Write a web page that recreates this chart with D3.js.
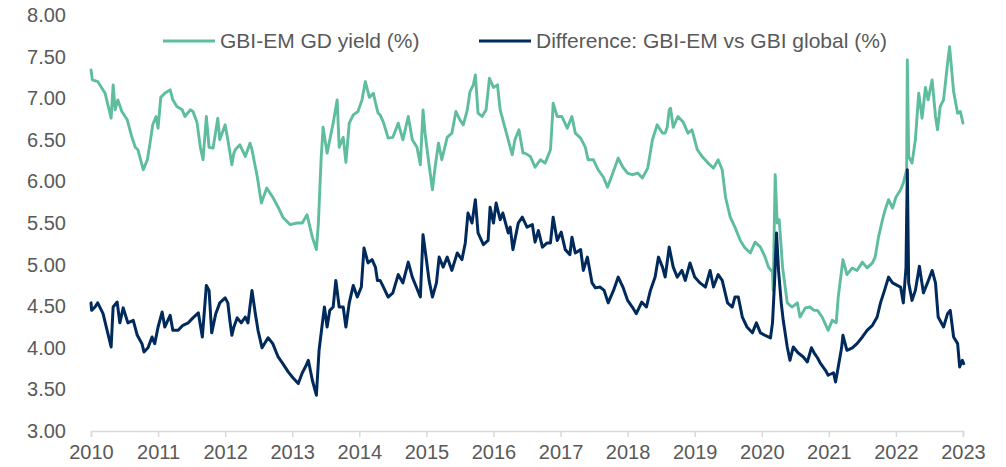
<!DOCTYPE html>
<html>
<head>
<meta charset="utf-8">
<script src="https://cdn.jsdelivr.net/npm/d3@7"></script>
<style>
  body { margin: 0; background: #fff; }
  text { font-family: "Liberation Sans", Arial, sans-serif; fill: #595959; }
  .line { fill: none; stroke-linejoin: round; stroke-linecap: round; }
</style>
</head>
<body>
<div id="viz"></div>
<script>
// GBI-EM GD yield (%), dates as decimal years
var emYears = [2010.00,2010.02,2010.10,2010.21,2010.30,2010.33,2010.36,2010.40,2010.46,2010.54,2010.61,2010.66,2010.70,2010.78,2010.84,2010.88,2010.92,2010.97,
  2011.00,2011.04,2011.10,2011.18,2011.22,2011.28,2011.36,2011.40,2011.48,2011.52,2011.58,2011.63,2011.67,2011.72,2011.76,2011.82,2011.89,2011.92,
  2012.00,2012.04,2012.10,2012.13,2012.15,2012.22,2012.30,2012.37,2012.40,2012.48,2012.54,2012.62,2012.71,2012.79,2012.86,2012.97,
  2013.07,2013.15,2013.22,2013.30,2013.36,2013.39,2013.43,2013.46,2013.52,2013.56,2013.61,2013.67,2013.70,2013.76,2013.80,2013.85,2013.91,2013.98,
  2014.04,2014.09,2014.15,2014.21,2014.24,2014.28,2014.31,2014.36,2014.43,2014.50,2014.58,2014.65,2014.73,2014.79,2014.86,2014.91,2014.95,2014.98,
  2015.03,2015.09,2015.13,2015.18,2015.23,2015.31,2015.38,2015.44,2015.50,2015.55,2015.61,2015.65,2015.70,2015.73,2015.77,2015.83,2015.89,2015.94,
  2016.00,2016.06,2016.10,2016.17,2016.22,2016.28,2016.32,2016.38,2016.44,2016.47,2016.55,2016.62,2016.70,2016.77,2016.85,2016.88,2016.89,2016.95,
  2017.02,2017.10,2017.17,2017.22,2017.30,2017.37,2017.41,2017.49,2017.56,2017.64,2017.70,2017.77,2017.86,2017.93,
  2018.00,2018.07,2018.15,2018.22,2018.30,2018.37,2018.44,2018.52,2018.56,2018.59,2018.62,2018.64,2018.68,2018.75,2018.83,2018.90,2018.96,
  2019.04,2019.11,2019.20,2019.28,2019.35,2019.41,2019.46,2019.53,2019.60,2019.68,2019.75,2019.83,2019.90,2019.98,
  2020.05,2020.10,2020.16,2020.17,2020.20,2020.23,2020.26,2020.31,2020.38,2020.45,2020.53,2020.57,2020.65,2020.72,2020.78,2020.83,2020.90,2020.99,
  2021.05,2021.11,2021.14,2021.21,2021.27,2021.35,2021.42,2021.50,2021.57,2021.65,2021.69,2021.74,2021.80,2021.84,2021.89,2021.95,
  2022.00,2022.07,2022.11,2022.16,2022.17,2022.19,2022.24,2022.29,2022.34,2022.39,2022.44,2022.48,2022.54,2022.59,2022.62,2022.66,2022.71,2022.77,2022.80,2022.86,2022.92,2022.96,2023.00];
var emYield = [7.34,7.22,7.20,7.06,6.76,7.16,6.86,6.98,6.84,6.74,6.53,6.41,6.38,6.14,6.26,6.46,6.68,6.78,
  6.64,7.01,7.06,7.10,6.98,6.90,6.86,6.78,6.86,6.84,6.71,6.41,6.26,6.78,6.41,6.40,6.76,6.50,
  6.68,6.50,6.20,6.34,6.38,6.44,6.30,6.46,6.38,6.05,5.74,5.92,5.81,5.69,5.57,5.48,
  5.50,5.50,5.60,5.33,5.18,5.50,6.26,6.65,6.34,6.50,6.70,6.98,6.41,6.53,6.23,6.70,6.80,6.84,
  6.98,7.20,7.01,7.06,6.95,6.82,6.80,6.71,6.52,6.53,6.70,6.50,6.78,6.50,6.41,6.20,6.86,6.58,
  6.26,5.90,6.17,6.46,6.26,6.53,6.58,6.84,6.74,6.68,6.86,7.08,7.16,7.28,6.82,6.78,6.86,7.24,
  7.13,7.16,6.86,6.65,6.50,6.32,6.50,6.62,6.34,6.34,6.30,6.17,6.26,6.22,6.38,6.78,6.94,6.78,
  6.78,6.64,6.78,6.58,6.52,6.41,6.26,6.26,6.14,6.05,5.93,6.08,6.28,6.17,
  6.10,6.08,6.10,6.04,6.16,6.50,6.68,6.58,6.58,6.65,6.86,6.88,6.65,6.78,6.71,6.58,6.62,
  6.38,6.30,6.22,6.16,6.26,6.14,5.81,5.57,5.45,5.29,5.20,5.14,5.27,5.21,
  5.09,4.97,4.91,4.69,6.08,5.50,5.54,4.97,4.54,4.49,4.54,4.37,4.48,4.49,4.45,4.45,4.37,4.21,
  4.33,4.30,4.61,5.06,4.88,4.96,4.93,5.03,4.96,5.02,5.09,5.33,5.54,5.66,5.78,5.68,
  5.81,5.90,5.98,6.14,7.46,6.30,6.22,6.50,7.06,6.76,7.13,6.98,7.22,6.78,6.62,6.90,6.98,7.42,7.62,7.08,6.82,6.84,6.70];

// Difference: GBI-EM vs GBI global (%)
var diffYears = [2010.00,2010.01,2010.06,2010.10,2010.18,2010.24,2010.30,2010.33,2010.39,2010.43,2010.48,2010.55,2010.63,2010.69,2010.76,2010.79,2010.85,2010.91,2010.95,
  2011.00,2011.06,2011.10,2011.18,2011.22,2011.30,2011.37,2011.45,2011.52,2011.60,2011.66,2011.72,2011.76,2011.80,2011.86,2011.92,
  2012.00,2012.04,2012.07,2012.10,2012.13,2012.18,2012.24,2012.30,2012.34,2012.40,2012.45,2012.49,2012.55,2012.64,2012.71,2012.79,2012.86,2012.94,
  2013.01,2013.09,2013.15,2013.19,2013.24,2013.30,2013.36,2013.40,2013.45,2013.48,2013.52,2013.56,2013.61,2013.65,2013.70,2013.76,2013.80,2013.85,2013.91,2013.97,
  2014.03,2014.07,2014.13,2014.19,2014.24,2014.27,2014.31,2014.36,2014.43,2014.50,2014.58,2014.65,2014.73,2014.79,2014.85,2014.91,2014.95,
  2015.00,2015.04,2015.09,2015.15,2015.19,2015.25,2015.31,2015.38,2015.46,2015.53,2015.58,2015.62,2015.68,2015.73,2015.77,2015.85,2015.92,2015.95,
  2016.00,2016.04,2016.10,2016.14,2016.22,2016.25,2016.29,2016.37,2016.43,2016.50,2016.58,2016.62,2016.67,2016.73,2016.80,2016.85,2016.89,2016.95,
  2017.01,2017.07,2017.14,2017.17,2017.22,2017.30,2017.34,2017.40,2017.47,2017.52,2017.59,2017.65,2017.71,2017.79,2017.86,2017.93,
  2018.00,2018.07,2018.13,2018.21,2018.28,2018.34,2018.41,2018.46,2018.52,2018.56,2018.62,2018.68,2018.74,2018.81,2018.86,2018.93,
  2019.00,2019.08,2019.16,2019.23,2019.28,2019.35,2019.41,2019.49,2019.56,2019.60,2019.65,2019.71,2019.78,2019.86,2019.92,2019.98,
  2020.05,2020.13,2020.16,2020.19,2020.22,2020.25,2020.29,2020.32,2020.38,2020.42,2020.47,2020.54,2020.62,2020.68,2020.74,2020.78,2020.83,2020.87,2020.95,2020.99,
  2021.07,2021.10,2021.14,2021.19,2021.21,2021.27,2021.35,2021.42,2021.50,2021.57,2021.65,2021.72,2021.77,2021.83,2021.89,2021.95,
  2022.02,2022.07,2022.11,2022.15,2022.17,2022.19,2022.24,2022.29,2022.35,2022.41,2022.47,2022.54,2022.59,2022.63,2022.71,2022.77,2022.81,2022.86,2022.92,2022.95,2022.99,2023.01];
var diffValues = [4.54,4.45,4.49,4.54,4.41,4.21,4.01,4.49,4.55,4.30,4.48,4.30,4.33,4.15,4.05,3.95,4.00,4.13,4.05,
  4.25,4.43,4.25,4.39,4.21,4.21,4.27,4.30,4.36,4.42,4.13,4.75,4.69,4.18,4.41,4.54,
  4.60,4.54,4.33,4.15,4.25,4.36,4.30,4.37,4.30,4.69,4.41,4.21,4.00,4.12,4.05,3.89,3.81,3.71,
  3.64,3.57,3.70,3.76,3.85,3.61,3.43,3.97,4.30,4.49,4.25,4.45,4.49,4.81,4.49,4.49,4.25,4.54,4.75,4.61,
  4.73,5.20,5.02,5.06,4.97,4.81,4.81,4.73,4.61,4.66,4.88,4.78,5.03,4.85,4.73,4.61,5.36,
  5.06,4.81,4.61,4.78,5.09,4.97,5.09,4.93,5.14,5.06,5.26,5.62,5.50,5.78,5.38,5.24,5.29,5.69,
  5.50,5.74,5.54,5.62,5.38,5.45,5.18,5.50,5.57,5.45,5.48,5.27,5.41,5.21,5.26,5.26,5.57,5.29,
  5.39,5.18,5.12,5.33,5.14,5.18,4.93,5.09,4.78,4.72,4.73,4.69,4.54,4.69,4.85,4.73,
  4.57,4.49,4.41,4.55,4.49,4.69,4.85,5.09,4.97,4.85,5.21,4.97,4.85,4.93,4.81,5.02,
  4.85,4.78,4.73,4.93,4.73,4.88,4.81,4.54,4.49,4.61,4.61,4.37,4.25,4.18,4.30,4.18,
  4.15,4.12,4.30,4.78,5.38,4.93,4.54,4.33,4.01,3.85,4.01,3.94,3.89,3.83,4.00,3.94,3.88,3.82,3.73,3.67,
  3.70,3.59,3.77,4.00,4.15,3.97,4.00,4.05,4.13,4.21,4.27,4.37,4.54,4.69,4.85,4.78,
  4.75,4.73,4.54,4.96,6.14,4.78,4.57,4.69,4.98,4.66,4.78,4.93,4.78,4.37,4.25,4.41,4.45,4.13,4.05,3.77,3.85,3.81];

var yTicks = [3, 3.5, 4, 4.5, 5, 5.5, 6, 6.5, 7, 7.5, 8];
var xTicks = [2010, 2011, 2012, 2013, 2014, 2015, 2016, 2017, 2018, 2019, 2020, 2021, 2022, 2023];
var seriesNames = ['GBI-EM GD yield (%)', 'Difference: GBI-EM vs GBI global (%)'];
var seriesColors = ['#5fbd9f', '#002a5c'];

var w = 1006, h = 467;
var mLeft = 91, mRight = 963, mTop = 15, mBottom = 431;

var x = d3.scaleLinear().domain([2010, 2023]).range([mLeft, mRight]);
var y = d3.scaleLinear().domain([3, 8]).range([mBottom, mTop]);

var svg = d3.select('#viz')
  .append('svg')
  .attr('width', w)
  .attr('height', h);

// y labels, no axis line
svg.append('g')
  .selectAll('text')
  .data(yTicks)
  .enter()
  .append('text')
  .attr('x', 66)
  .attr('y', function(d) { return y(d); })
  .attr('dy', '0.35em')
  .attr('text-anchor', 'end')
  .style('font-size', '20px')
  .text(function(d) { return d.toFixed(2); });

// x axis
var xAxis = svg.append('g')
  .attr('transform', 'translate(0,' + mBottom + ')')
  .call(d3.axisBottom(x).tickValues(xTicks).tickFormat(d3.format('d')).tickSize(6).tickPadding(8));
xAxis.select('.domain').attr('stroke', '#d9d9d9').attr('stroke-width', 1.5);
xAxis.selectAll('.tick line').attr('stroke', '#d9d9d9').attr('stroke-width', 1.5);
xAxis.selectAll('.tick text')
  .attr('fill', '#595959')
  .style('font-family', '"Liberation Sans", Arial, sans-serif')
  .style('font-size', '20px');

var line = d3.line()
  .x(function(d) { return x(d[0]); })
  .y(function(d) { return y(d[1]); });

svg.append('path')
  .datum(d3.zip(emYears, emYield))
  .attr('class', 'line')
  .attr('stroke', seriesColors[0])
  .attr('stroke-width', 2.9)
  .attr('d', line);

svg.append('path')
  .datum(d3.zip(diffYears, diffValues))
  .attr('class', 'line')
  .attr('stroke', seriesColors[1])
  .attr('stroke-width', 3)
  .attr('d', line);

// legend
var legendX = [163, 479];
var leg = svg.append('g')
  .selectAll('g')
  .data(seriesNames)
  .enter()
  .append('g')
  .attr('transform', function(d, i) { return 'translate(' + legendX[i] + ',41)'; });

leg.append('line')
  .attr('x1', 0).attr('x2', 52)
  .attr('stroke', function(d, i) { return seriesColors[i]; })
  .attr('stroke-width', 3);

leg.append('text')
  .attr('x', 57)
  .attr('dy', '0.35em')
  .style('font-size', '21px')
  .text(function(d) { return d; });
</script>
</body>
</html>
